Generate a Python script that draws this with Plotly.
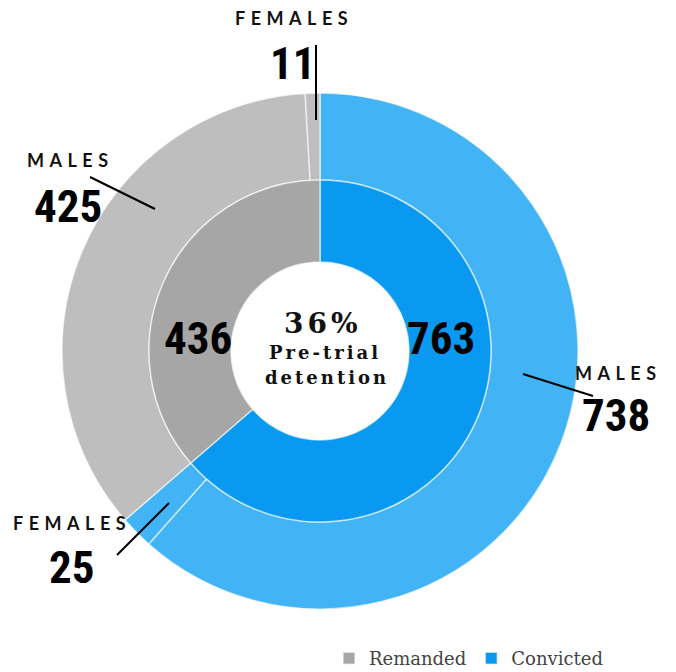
import plotly.graph_objects as go

W, H = 676, 672
OFF = 8  # page body margin

# inner ring: status (clockwise from 12 o'clock)
status_labels = ["Convicted", "Remanded"]
status_values = [763, 436]
# outer ring: status by sex, same order
sex_labels = ["Convicted males", "Convicted females", "Remanded males", "Remanded females"]
sex_short = ["MALES", "FEMALES", "MALES", "FEMALES"]
sex_values = [738, 25, 425, 11]

inner_colors = ["#0a99f0", "#a6a6a6"]
outer_colors = ["#42b4f6", "#42b4f6", "#bebebe", "#bebebe"]

CX, CY = 320, 351
R_OUT, R_MID, R_HOLE = 258, 171, 89

def px(x):
    return (x - OFF) / W

def py(y):
    return 1 - (y - OFF) / H

def spaced(txt, sp):
    return f'<span style="letter-spacing:{sp}px">{txt}</span>'

fig = go.Figure()

fig.add_trace(go.Pie(
    labels=sex_labels, values=sex_values, sort=False, direction="clockwise", rotation=0,
    hole=R_MID / R_OUT, textinfo="none", hoverinfo="label+value", showlegend=False,
    marker=dict(colors=outer_colors, line=dict(color="rgba(255,255,255,0.6)", width=1.5)),
    domain=dict(x=[px(CX - R_OUT), px(CX + R_OUT)], y=[py(CY + R_OUT), py(CY - R_OUT)]),
))

fig.add_trace(go.Pie(
    labels=status_labels, values=status_values, sort=False, direction="clockwise", rotation=0,
    hole=R_HOLE / R_MID, textinfo="none", hoverinfo="label+value",
    marker=dict(colors=inner_colors, line=dict(color="rgba(255,255,255,0.6)", width=1.5)),
    domain=dict(x=[px(CX - R_MID), px(CX + R_MID)], y=[py(CY + R_MID), py(CY - R_MID)]),
))

num_font = dict(family="Roboto Condensed, Roboto, sans-serif",
                size=45, color="#000000", weight="bold")
lab_font = dict(family="Lato", size=18, color="#111111", weight="bold")
ctr_font = dict(family="DejaVu Serif", color="#111111", weight="bold")

annotations = []

def add_text(x, y, text, font):
    annotations.append(dict(x=px(x), y=py(y), xref="paper", yref="paper", text=text,
                            showarrow=False, xanchor="center", yanchor="middle", font=font))

# outer ring callouts: label position, value position
callouts = [
    (618, 373, 616, 415),  # convicted males
    (72, 523, 71, 567),    # convicted females
    (70, 160, 68, 206),    # remanded males
    (294, 18, 292, 63),    # remanded females
]
for (lx, ly, nx, ny), lab, val in zip(callouts, sex_short, sex_values):
    add_text(lx, ly, spaced(lab, 5.5), lab_font)
    add_text(nx, ny, str(val), num_font)

# inner ring values
add_text(441, 338, str(status_values[0]), num_font)
add_text(198, 338, str(status_values[1]), num_font)

# centre text
share = round(100 * status_values[1] / sum(status_values))
add_text(323, 323, spaced(f"{share}%", 4), dict(ctr_font, size=28))
add_text(325, 352, spaced("Pre-trial", 3), dict(ctr_font, size=18))
add_text(327, 377, spaced("detention", 3), dict(ctr_font, size=18))

# leader lines
leaders = [
    (316, 45, 316, 120),
    (90, 177, 155, 209),
    (169, 503, 117, 555),
    (523, 374, 593, 396),
]
shapes = [dict(type="line", xref="paper", yref="paper", x0=px(a), y0=py(b), x1=px(c), y1=py(d),
               line=dict(color="#000000", width=2)) for a, b, c, d in leaders]

fig.update_layout(
    width=W, height=H,
    margin=dict(l=0, r=0, t=0, b=0),
    paper_bgcolor="white",
    annotations=annotations,
    shapes=shapes,
    legend=dict(orientation="h", x=px(329), y=py(677), xanchor="left", yanchor="bottom",
                traceorder="reversed",
                font=dict(family="DejaVu Serif", size=18, color="#444444"),
                itemwidth=30),
)

fig.write_html("out.html")
